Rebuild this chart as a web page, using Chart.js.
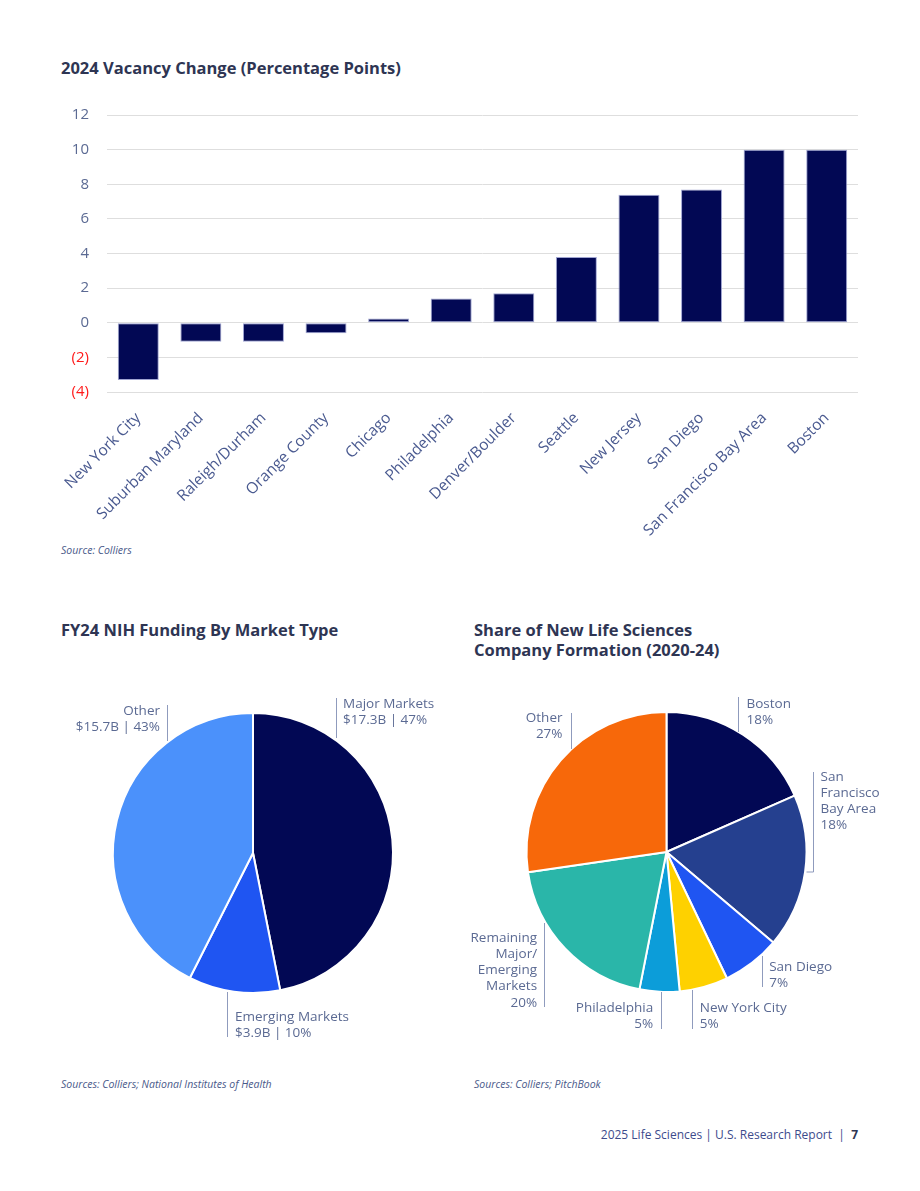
<!DOCTYPE html>
<html>
<head>
<meta charset="utf-8">
<script src="https://cdn.jsdelivr.net/npm/chart.js@4.4.1/dist/chart.umd.min.js"></script>
<style>
  html, body { margin: 0; padding: 0; background: #ffffff; }
  body { width: 920px; height: 1191px; position: relative; overflow: hidden; font-family: 'Open Sans', sans-serif; }
  .title { position: absolute; font-weight: 700; font-size: 16.5px; color: #2e3553; line-height: 20px; margin: 0; }
  .source { position: absolute; font-style: italic; font-size: 10.5px; color: #4a5a8a; }
  .footer { position: absolute; right: 62px; top: 1126px; font-size: 12px; color: #3d4b8c; white-space: pre; }
  .footer b { color: #2e3553; }
  .box { position: absolute; }
  .box canvas { display: block; }
</style>
</head>
<body>
<div class="title" style="left:61px; top:58px;">2024 Vacancy Change (Percentage Points)</div>
<div class="box" style="left:40px; top:88px; width:840px; height:454px;"><canvas id="bar"></canvas></div>
<div class="source" style="left:61px; top:543px;">Source: Colliers</div>

<div class="title" style="left:61px; top:620px;">FY24 NIH Funding By Market Type</div>
<div class="title" style="left:474px; top:620px;">Share of New Life Sciences<br>Company Formation (2020-24)</div>
<div class="box" style="left:40px; top:690px; width:420px; height:370px;"><canvas id="pie1"></canvas></div>
<div class="box" style="left:460px; top:690px; width:420px; height:370px;"><canvas id="pie2"></canvas></div>
<div class="source" style="left:61px; top:1077px;">Sources: Colliers; National Institutes of Health</div>
<div class="source" style="left:474px; top:1077px;">Sources: Colliers; PitchBook</div>

<div class="footer">2025 Life Sciences | U.S. Research Report  |  <b>7</b></div>

<script>
// ---------- DATA ----------
const vacancyMarkets = ['New York City','Suburban Maryland','Raleigh/Durham','Orange County','Chicago','Philadelphia','Denver/Boulder','Seattle','New Jersey','San Diego','San Francisco Bay Area','Boston'];
const vacancyChange = [-3.3, -1.1, -1.1, -0.6, 0.25, 1.4, 1.7, 3.8, 7.4, 7.7, 10.0, 10.0];
const yAxisMin = -4;
const yAxisMax = 12;
const yAxisStep = 2;

const nihSegments = ['Major Markets', 'Emerging Markets', 'Other'];
const nihFundingB = [17.3, 3.9, 15.7];
const nihValueLabels = ['$17.3B | 47%', '$3.9B | 10%', '$15.7B | 43%'];

const formationMarkets = ['Boston', 'San Francisco Bay Area', 'San Diego', 'New York City', 'Philadelphia', 'Remaining Major/Emerging Markets', 'Other'];
const formationNameLines = [['Boston'], ['San', 'Francisco', 'Bay Area'], ['San Diego'], ['New York City'], ['Philadelphia'], ['Remaining', 'Major/', 'Emerging', 'Markets'], ['Other']];
const formationShare = [18.4, 17.8, 6.7, 5.6, 4.6, 19.6, 27.3];
const formationShareLabels = ['18%', '18%', '7%', '5%', '5%', '20%', '27%'];

// ---------- STYLE ----------
const NAVY = '#020854';
const FONT = "'Open Sans', sans-serif";
const LABEL_COLOR = '#5b6a93';
Chart.defaults.font.family = FONT;
Chart.defaults.animation = false;

// ---------- BAR CHART ----------
new Chart(document.getElementById('bar'), {
  type: 'bar',
  data: {
    labels: vacancyMarkets,
    datasets: [{
      data: vacancyChange,
      backgroundColor: NAVY,
      borderColor: 'rgba(150,155,205,0.9)',
      borderWidth: 1,
      borderSkipped: false,
      barPercentage: 0.655,
      categoryPercentage: 1.0
    }]
  },
  options: {
    responsive: true,
    maintainAspectRatio: false,
    layout: { autoPadding: false, padding: { top: 15, right: 22, left: 0, bottom: 0 } },
    plugins: { legend: { display: false }, tooltip: { enabled: false } },
    scales: {
      y: {
        min: yAxisMin, max: yAxisMax,
        ticks: {
          stepSize: yAxisStep,
          padding: 18,
          font: { size: 15 },
          color: (c) => (c.tick && c.tick.value < 0 ? '#ff1a1a' : LABEL_COLOR),
          callback: (v) => (v < 0 ? '(' + (-v) + ')' : String(v))
        },
        grid: { color: '#dedede', lineWidth: 1, drawTicks: false },
        border: { display: false },
        afterFit: (s) => { s.width = 67; }
      },
      x: {
        ticks: {
          minRotation: 45, maxRotation: 45,
          autoSkip: false,
          padding: 17,
          font: { size: 15.5 },
          color: '#4a5a90'
        },
        grid: { display: false, drawTicks: false },
        border: { display: false },
        afterFit: (s) => { s.height = 150; }
      }
    }
  }
});

// ---------- PIE LABEL PLUGIN ----------
const pieLabels = {
  id: 'pieLabels',
  afterDraw(chart, args, opts) {
    const arc = chart.getDatasetMeta(0).data[0];
    if (!arc) return;
    const cx = arc.x, cy = arc.y;
    const ctx = chart.ctx;
    ctx.save();
    ctx.font = '13.5px ' + FONT;
    ctx.fillStyle = LABEL_COLOR;
    ctx.textBaseline = 'middle';
    opts.items.forEach((it, i) => {
      ctx.strokeStyle = '#8f9bbd';
      ctx.lineWidth = 1;
      ctx.beginPath();
      ctx.moveTo(Math.round(cx + it.lx) + 0.5, cy + it.ly1);
      ctx.lineTo(Math.round(cx + it.lx) + 0.5, cy + it.ly2);
      if (it.foot !== undefined) {
        ctx.lineTo(cx + it.foot, cy + it.ly2);
      }
      ctx.stroke();
      ctx.textAlign = it.align;
      const lines = opts.texts[i];
      lines.forEach((t, k) => {
        ctx.fillText(t, cx + it.tx, cy + it.ty + k * 16.1);
      });
    });
    ctx.restore();
  }
};

// ---------- PIE 1 ----------
new Chart(document.getElementById('pie1'), {
  type: 'pie',
  data: {
    labels: nihSegments,
    datasets: [{
      data: nihFundingB,
      backgroundColor: [NAVY, '#1f55f2', '#4b91fb'],
      borderColor: '#ffffff',
      borderWidth: 2,
      hoverOffset: 0
    }]
  },
  options: {
    responsive: true,
    maintainAspectRatio: false,
    radius: 140,
    layout: { padding: { left: 73, right: 67, top: 23, bottom: 67 } },
    plugins: {
      legend: { display: false }, tooltip: { enabled: false },
      pieLabels: {
        texts: nihSegments.map((n, i) => [n, nihValueLabels[i]]),
        items: [
          { lx: 83, ly1: -155, ly2: -115, tx: 90, ty: -149, align: 'left' },
          { lx: -26, ly1: 139, ly2: 184, tx: -18, ty: 164, align: 'left' },
          { lx: -86, ly1: -148, ly2: -112, tx: -93, ty: -142, align: 'right' }
        ]
      }
    }
  },
  plugins: [pieLabels]
});

// ---------- PIE 2 ----------
new Chart(document.getElementById('pie2'), {
  type: 'pie',
  data: {
    labels: formationMarkets,
    datasets: [{
      data: formationShare,
      backgroundColor: [NAVY, '#25408f', '#1f55f2', '#fed100', '#0c9dd9', '#2ab6a9', '#f7680a'],
      borderColor: '#ffffff',
      borderWidth: 2,
      hoverOffset: 0
    }]
  },
  options: {
    responsive: true,
    maintainAspectRatio: false,
    radius: 140,
    layout: { padding: { left: 63, right: 70, top: 22, bottom: 68 } },
    plugins: {
      legend: { display: false }, tooltip: { enabled: false },
      pieLabels: {
        texts: formationNameLines.map((l, i) => l.concat([formationShareLabels[i]])),
        items: [
          { lx: 71, ly1: -155, ly2: -120, tx: 80, ty: -148, align: 'left' },
          { lx: 146, ly1: -80, ly2: 20, foot: 140, tx: 154, ty: -75.3, align: 'left' },
          { lx: 95, ly1: 104, ly2: 135, tx: 102.7, ty: 114.7, align: 'left' },
          { lx: 25.6, ly1: 138, ly2: 177, tx: 33.3, ty: 156.3, align: 'left' },
          { lx: -5.7, ly1: 140, ly2: 177, tx: -13.3, ty: 156.3, align: 'right' },
          { lx: -122.4, ly1: 71, ly2: 155, tx: -129.4, ty: 86.3, align: 'right' },
          { lx: -96, ly1: -139, ly2: -103, tx: -104, ty: -133.7, align: 'right' }
        ]
      }
    }
  },
  plugins: [pieLabels]
});
</script>
</body>
</html>
